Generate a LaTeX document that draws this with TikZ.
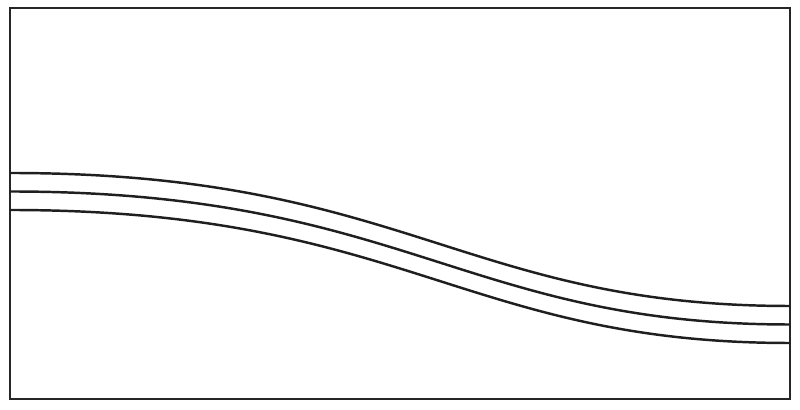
\documentclass[tikz,border=0pt]{standalone}
\begin{document}
\begin{tikzpicture}[x=0.01cm,y=-0.01cm,
  frame/.style={draw=black!85,line width=0.75pt},
  wave/.style={draw=black!88,line width=0.7pt}]
\useasboundingbox (0,0) rectangle (800,410);
\draw[frame] (10,8) rectangle (790,399);
\foreach \d in {0,18.5,37}{
  \draw[wave] (10,173+\d) .. controls (404,173+\d) and (464,306+\d) .. (790,306+\d);
}
\end{tikzpicture}
\end{document}
